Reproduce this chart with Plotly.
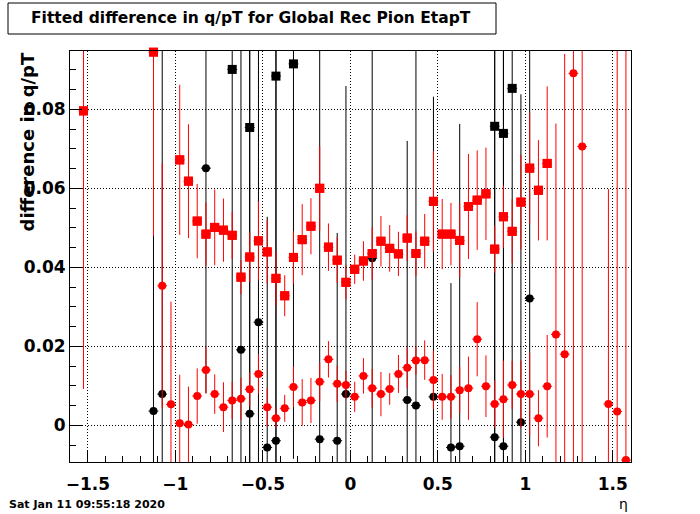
import plotly.graph_objects as go

# ---------------- data ----------------
# red squares
rs_eta = [-1.525, -1.125, -0.975, -0.925, -0.875, -0.825, -0.775, -0.725, -0.675, -0.625,
          -0.575, -0.525, -0.475, -0.425, -0.375, -0.325, -0.275, -0.225, -0.175, -0.125,
          -0.075, -0.025, 0.025, 0.075, 0.125, 0.175, 0.225, 0.275, 0.325, 0.375,
          0.425, 0.475, 0.525, 0.575, 0.625, 0.675, 0.725, 0.775, 0.825, 0.875,
          0.925, 0.975, 1.025, 1.075, 1.125]
rs_val = [0.0796, 0.0945, 0.0672, 0.0618, 0.0517, 0.0484, 0.0501, 0.0494, 0.0481, 0.0375,
          0.0426, 0.0467, 0.0439, 0.0372, 0.0328, 0.0425, 0.0470, 0.0504, 0.0600, 0.0451,
          0.0418, 0.0362, 0.0395, 0.0416, 0.0435, 0.0466, 0.0448, 0.0434, 0.0474, 0.0435,
          0.0466, 0.0567, 0.0484, 0.0484, 0.0468, 0.0554, 0.0570, 0.0586, 0.0446, 0.0528,
          0.0491, 0.0565, 0.0651, 0.0595, 0.0663]
rs_err = [0.0704, 0.0466, 0.0190, 0.0144, 0.0094, 0.0080, 0.0096, 0.0080, 0.0060, 0.0043,
          0.0063, 0.0100, 0.0080, 0.0068, 0.0052, 0.0066, 0.0090, 0.0071, 0.0107, 0.0060,
          0.0058, 0.0043, 0.0037, 0.0050, 0.0066, 0.0064, 0.0059, 0.0056, 0.0058, 0.0056,
          0.0069, 0.0127, 0.0089, 0.0079, 0.0094, 0.0133, 0.0126, 0.0117, 0.0060, 0.0079,
          0.0081, 0.0120, 0.0141, 0.0127, 0.0195]

# red circles
rc_eta = [-1.075, -1.025, -0.975, -0.925, -0.875, -0.825, -0.775, -0.725, -0.675, -0.625,
          -0.575, -0.525, -0.475, -0.425, -0.375, -0.325, -0.275, -0.225, -0.175, -0.125,
          -0.075, -0.025, 0.025, 0.075, 0.125, 0.175, 0.225, 0.275, 0.325, 0.375,
          0.425, 0.475, 0.525, 0.575, 0.625, 0.675, 0.725, 0.775, 0.825, 0.875,
          0.925, 0.975, 1.025, 1.075, 1.125, 1.175, 1.225, 1.275, 1.325, 1.475,
          1.525, 1.575]
rc_val = [0.0353, 0.0053, 0.0005, 0.0002, 0.0074, 0.0140, 0.0079, 0.0046, 0.0063, 0.0067,
          0.0091, 0.0130, 0.0046, 0.0018, 0.0043, 0.0097, 0.0058, 0.0063, 0.0110, 0.0167,
          0.0105, 0.0102, 0.0072, 0.0125, 0.0094, 0.0079, 0.0092, 0.0130, 0.0146, 0.0164,
          0.0165, 0.0115, 0.0072, 0.0072, 0.0089, 0.0094, 0.0218, 0.0099, 0.0054, 0.0066,
          0.0102, 0.0079, 0.0079, 0.0018, 0.0099, 0.0230, 0.0180, 0.0891, 0.0706, 0.0054,
          0.0035, -0.0088]
rc_err = [0.0310, 0.0260, 0.0123, 0.0096, 0.0070, 0.0059, 0.0050, 0.0063, 0.0047, 0.0053,
          0.0044, 0.0050, 0.0049, 0.0025, 0.0034, 0.0051, 0.0059, 0.0057, 0.0049, 0.0046,
          0.0046, 0.0036, 0.0038, 0.0045, 0.0049, 0.0056, 0.0040, 0.0048, 0.0051, 0.0035,
          0.0050, 0.0074, 0.0058, 0.0055, 0.0059, 0.0080, 0.0094, 0.0078, 0.0060, 0.0098,
          0.0061, 0.0085, 0.0105, 0.0071, 0.0130, 0.0534, 0.0760, 0.1000, 0.0900, 0.0544,
          0.1000, 0.1050]

# black circles
bc_eta = [-1.125, -1.075, -0.825, -0.625, -0.575, -0.525, -0.475, -0.425, -0.175, -0.075,
          -0.025, 0.125, 0.325, 0.375, 0.475, 0.575, 0.625, 0.825, 0.875, 0.975, 1.025]
bc_val = [0.0036, 0.0079, 0.0651, 0.0191, 0.0029, 0.0261, -0.0056, -0.0039, -0.0035, -0.0039,
          0.0079, 0.0423, 0.0064, 0.0050, 0.0072, -0.0056, -0.0053, -0.0030, -0.0053, 0.0008,
          0.0321]
bc_err = [0.0446, 0.0900, 0.0570, 0.0800, 0.1000, 0.0750, 0.0584, 0.1000, 0.1000, 0.0526,
          0.0780, 0.0600, 0.0656, 0.0950, 0.0760, 0.0416, 0.0816, 0.1000, 0.1000, 0.0830,
          0.0650]

# black squares
bs_eta = [-0.675, -0.575, -0.425, -0.325, 0.825, 0.875, 0.925]
bs_val = [0.0901, 0.0754, 0.0884, 0.0915, 0.0757, 0.0739, 0.0853]
bs_err = [0.1100, 0.1000, 0.1000, 0.1000, 0.1000, 0.1000, 0.1000]

x_tickvals = [-1.5, -1, -0.5, 0, 0.5, 1, 1.5]
y_tickvals = [0, 0.02, 0.04, 0.06, 0.08]

title_text = "Fitted difference in q/pT for Global Rec Pion EtapT"
ytitle_text = "difference in q/pT"
xtitle_text = "η"
date_text = "Sat Jan 11 09:55:18 2020"

XHALF = 0.028

# ---------------- figure ----------------
fig = go.Figure()


def add_series(xs, ys, es, color, symbol, size):
    fig.add_trace(go.Scatter(
        x=xs, y=ys, mode="markers",
        marker=dict(symbol=symbol, size=size, color=color, line=dict(width=0)),
        error_y=dict(type="data", array=es, symmetric=True, color=color,
                     thickness=1, width=0),
        error_x=dict(type="constant", value=XHALF, color=color, thickness=1, width=0),
        hoverinfo="skip",
    ))


add_series(bc_eta, bc_val, bc_err, "black", "circle", 8)
add_series(bs_eta, bs_val, bs_err, "black", "square", 9)
add_series(rc_eta, rc_val, rc_err, "red", "circle", 8)
add_series(rs_eta, rs_val, rs_err, "red", "square", 9)
# marker overlay for red squares (not clipped at frame, as in original)
fig.add_trace(go.Scatter(
    x=rs_eta, y=rs_val, mode="markers", cliponaxis=False,
    marker=dict(symbol="square", size=9, color="red", line=dict(width=0)),
    hoverinfo="skip",
))

W, H = 700, 514
ML, MR, MT, MB = 70, 69, 51, 52
PW, PH = W - ML - MR, H - MT - MB


def px(xp):
    return (xp - ML) / PW


def py(yp):
    return (H - MB - yp) / PH


tickfont = dict(family="DejaVu Sans", size=17, color="black", weight="bold")
GRIDDASH = "1px,2px"

fig.update_layout(
    width=W, height=H,
    margin=dict(l=ML, r=MR, t=MT, b=MB),
    paper_bgcolor="white", plot_bgcolor="white",
    showlegend=False,
    xaxis=dict(
        range=[-1.602, 1.604], tickvals=x_tickvals,
        ticks="inside", ticklen=12, tickcolor="black", tickwidth=1,
        showline=True, linecolor="black", linewidth=1, mirror=True,
        showgrid=True, gridcolor="black", griddash=GRIDDASH, gridwidth=1,
        zeroline=False, tickfont=tickfont, ticklabelstandoff=7,
        minor=dict(dtick=0.1, tick0=0, ticks="inside", ticklen=6, tickcolor="black",
                   showgrid=False),
    ),
    yaxis=dict(
        range=[-0.00929, 0.09476], tickvals=y_tickvals,
        ticks="inside", ticklen=12, tickcolor="black", tickwidth=1,
        showline=True, linecolor="black", linewidth=1, mirror=True,
        showgrid=True, gridcolor="black", griddash=GRIDDASH, gridwidth=1,
        zeroline=False, tickfont=tickfont,
        minor=dict(dtick=0.005, tick0=0, ticks="inside", ticklen=6, tickcolor="black",
                   showgrid=False),
    ),
)

# title box
fig.add_shape(type="rect", xref="paper", yref="paper",
              x0=px(8), x1=px(496), y0=py(34), y1=py(3),
              line=dict(color="black", width=1), fillcolor="white", layer="above")
fig.add_annotation(text=title_text, xref="paper", yref="paper",
                   x=px(251), y=py(18), xanchor="center", yanchor="middle",
                   showarrow=False,
                   font=dict(family="DejaVu Sans", size=15.5, color="black", weight="bold"))

# y-axis title (right-aligned at top of axis)
fig.add_annotation(text=ytitle_text, xref="paper", yref="paper",
                   x=px(27), y=1.0, xanchor="center", yanchor="top",
                   textangle=-90, showarrow=False,
                   font=dict(family="DejaVu Sans", size=18, color="black", weight="bold"))

# x-axis title
fig.add_annotation(text=xtitle_text, xref="paper", yref="paper",
                   x=px(623), y=py(504), xanchor="center", yanchor="middle",
                   showarrow=False,
                   font=dict(family="DejaVu Sans", size=14, color="black"))

# date stamp
fig.add_annotation(text=date_text, xref="paper", yref="paper",
                   x=px(7), y=py(504), xanchor="left", yanchor="middle",
                   showarrow=False,
                   font=dict(family="DejaVu Sans", size=11, color="black", weight="bold"))

fig.write_html("out.html",
               config={"displayModeBar": False},
               post_script="document.body.style.margin='0px';"
                           "document.body.style.overflow='hidden';")
